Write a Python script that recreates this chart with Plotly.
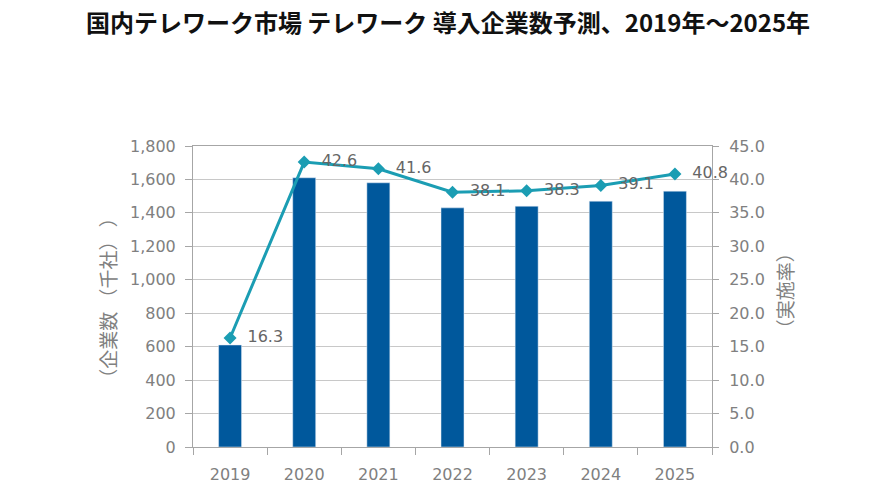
import plotly.graph_objects as go

years = ["2019", "2020", "2021", "2022", "2023", "2024", "2025"]
companies = [610, 1610, 1580, 1430, 1440, 1470, 1530]
rate = [16.3, 42.6, 41.6, 38.1, 38.3, 39.1, 40.8]
rate_labels = ["16.3", "42.6", "41.6", "38.1", "38.3", "39.1", "40.8"]

bar_color = "#00589c"
line_color = "#1b9db3"
grid = "#c8c8c8"
axis_col = "#a6a6a6"
tick_font = dict(family="DejaVu Sans", size=16, color="#808080")

fig = go.Figure()
fig.add_trace(go.Bar(x=years, y=companies, marker_color=bar_color, width=0.31, yaxis="y"))
fig.add_trace(go.Scatter(
    x=years, y=rate, yaxis="y2", mode="lines+markers+text",
    line=dict(color=line_color, width=3),
    marker=dict(symbol="diamond", size=10, color=line_color),
    text=rate_labels, texttemplate="  %{text}", textposition="middle right",
    textfont=dict(family="DejaVu Sans", size=16, color="#666666"),
    cliponaxis=False,
))

fig.update_layout(
    width=896, height=504,
    margin=dict(l=193, r=184, t=146, b=57),
    paper_bgcolor="white", plot_bgcolor="white",
    showlegend=False,
    title=dict(text="<b>国内テレワーク市場 テレワーク 導入企業数予測、2019年～2025年</b>",
               x=0.5, xanchor="center", y=0.954, yanchor="middle",
               font=dict(family="Noto Sans CJK JP", size=24, color="#111111")),
    xaxis=dict(type="category", tickson="boundaries", ticks="outside", ticklen=7,
               tickcolor=axis_col, showline=True, linecolor=axis_col, linewidth=1,
               mirror=True, tickfont=tick_font, showgrid=False, ticklabelstandoff=13),
    yaxis=dict(range=[0, 1800], dtick=200, tickformat=",d", ticks="outside", ticklen=7,
               tickcolor=axis_col, showline=True, linecolor=axis_col, linewidth=1,
               gridcolor=grid, tickfont=tick_font, zeroline=False, ticklabelstandoff=6),
    yaxis2=dict(range=[0, 45], dtick=5, tickformat=".1f", overlaying="y", side="right",
                ticks="outside", ticklen=6, tickcolor=axis_col, showline=True,
                linecolor=axis_col, linewidth=1, showgrid=False, tickfont=tick_font,
                zeroline=False, ticklabelstandoff=7),
)

fig.add_annotation(text="（企業数 （千社） ）", xref="paper", yref="paper", x=-0.166, y=0.495,
                   xanchor="center", yanchor="middle",
                   textangle=-90, showarrow=False,
                   font=dict(family="Noto Sans CJK JP", size=19, color="#808080"))
fig.add_annotation(text="（実施率）", xref="paper", yref="paper", x=1.14, y=0.52,
                   xanchor="center", yanchor="middle",
                   textangle=-90, showarrow=False,
                   font=dict(family="Noto Sans CJK JP", size=19, color="#808080"))

fig.write_html("out.html", config={"displayModeBar": False},
               post_script="document.body.style.margin='0px';")
